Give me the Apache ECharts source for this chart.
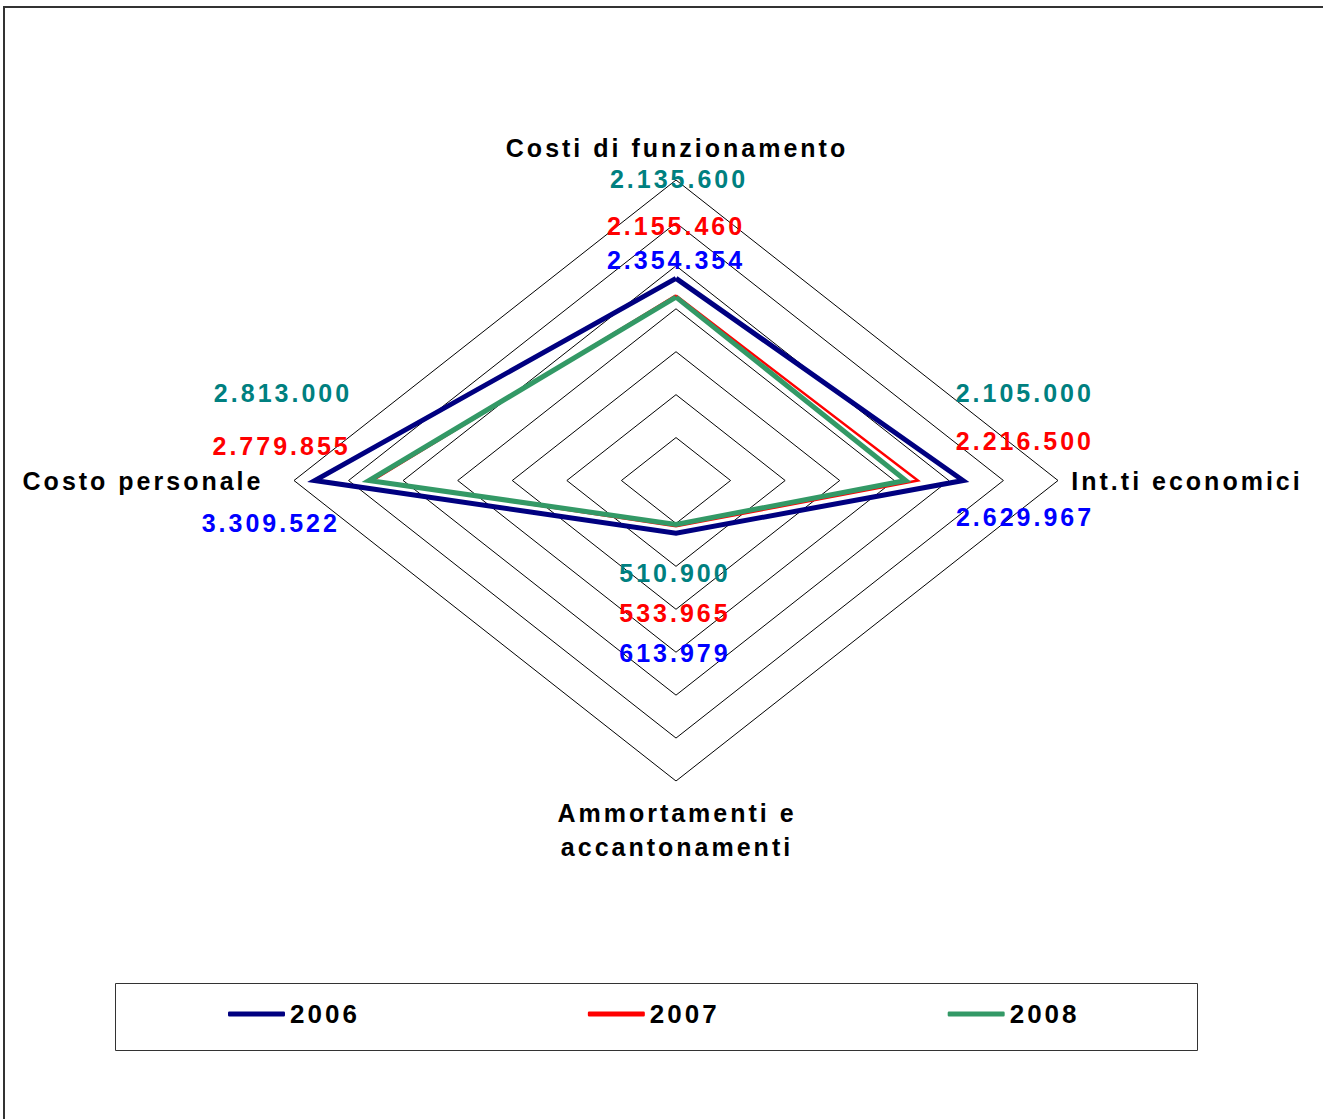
<!DOCTYPE html>
<html>
<head>
<meta charset="utf-8">
<script src="https://cdn.jsdelivr.net/npm/echarts@6/dist/echarts.min.js"></script>
<style>
html, body { margin: 0; padding: 0; background: #fff; }
#chart { width: 1323px; height: 1119px; }
#chart text { letter-spacing: 3px; }
</style>
</head>
<body>
<div id="chart"></div>
<script>
// top, right, bottom, left
var indicators = ['Costi di funzionamento', 'Int.ti economici', 'Ammortamenti e\naccantonamenti', 'Costo personale'];
var years = ['2006', '2007', '2008'];
var values2006 = [2354354, 2629967, 613979, 3309522];
var values2007 = [2155460, 2216500, 533965, 2779855];
var values2008 = [2135600, 2105000, 510900, 2813000];
var rings = [500000, 1000000, 1500000, 2000000, 2500000, 3000000, 3500000];

var lineColors = ['#000080', '#ff0000', '#339966'];
var lineWidths = [5, 2.5, 5];
var labelColors = ['#0000ff', '#ff0000', '#008080'];
// label offsets from each vertex (top, right, bottom, left)
var labelOffsets = [
    [[0, -18], [62, 36], [-1, 120], [-44, 42]],
    [[0, -69], [107, -40], [-1, 87], [-91, -35]],
    [[3, -118], [119, -88], [-1, 49], [-86, -88]]
];

var font = "'Liberation Sans', Arial, sans-serif";

function vertices(v) {
    return [[0, v[0]], [v[1], 0], [0, -v[2]], [-v[3], 0]];
}
function fmt(n) {
    return String(n).replace(/\B(?=(\d{3})+(?!\d))/g, '.');
}

var chart = echarts.init(document.getElementById('chart'), null, { renderer: 'svg' });

var series = [];
rings.forEach(function (r) {
    var pts = vertices([r, r, r, r]);
    series.push({
        type: 'line',
        data: pts.concat([pts[0]]),
        symbol: 'none',
        silent: true,
        lineStyle: { color: '#000', width: 1 },
        z: 1
    });
});

var allValues = [values2006, values2007, values2008];
years.forEach(function (y, i) {
    var pts = vertices(allValues[i]);
    series.push({
        name: y,
        type: 'line',
        data: pts.concat([pts[0]]),
        symbol: 'none',
        color: lineColors[i],
        itemStyle: { color: lineColors[i] },
        lineStyle: { color: lineColors[i], width: lineWidths[i], join: 'miter' },
        z: 2 + i
    });
});
years.forEach(function (y, i) {
    var pts = vertices(allValues[i]);
    series.push({
        name: y + ' etichette',
        type: 'scatter',
        symbolSize: 1,
        itemStyle: { color: 'rgba(0,0,0,0)', opacity: 1 },
        silent: true,
        z: 10,
        data: pts.map(function (p, k) {
            return {
                value: p,
                label: { offset: labelOffsets[i][k] }
            };
        }),
        label: {
            show: true,
            position: 'inside',
            align: 'center',
            verticalAlign: 'middle',
            color: labelColors[i],
            opacity: 1,
            fontFamily: font,
            fontWeight: 'bold',
            fontSize: 25,
            formatter: function (p) { return fmt(allValues[i][p.dataIndex]); }
        }
    });
});

function axisName(text, x, y, align) {
    return {
        type: 'text',
        x: x,
        y: y,
        silent: true,
        style: {
            text: text,
            fill: '#000',
            font: 'bold 25px ' + font,
            textAlign: align || 'center',
            textVerticalAlign: 'middle',
            lineHeight: 34
        }
    };
}

var option = {
    animation: false,
    grid: { left: 294, top: 180, width: 764, height: 601 },
    xAxis: { type: 'value', min: -3500000, max: 3500000, show: false },
    yAxis: { type: 'value', min: -3500000, max: 3500000, show: false },
    legend: {
        data: years,
        left: 228,
        top: 1001,
        padding: 0,
        icon: 'roundRect',
        itemWidth: 57,
        itemHeight: 5,
        itemGap: 240,
        textStyle: { color: '#000', fontFamily: font, fontWeight: 'bold', fontSize: 26 }
    },
    graphic: [
        {
            type: 'rect',
            silent: true,
            shape: { x: 4, y: 7, width: 1400, height: 1200 },
            style: { fill: 'none', stroke: '#333', lineWidth: 2 }
        },
        {
            type: 'rect',
            silent: true,
            shape: { x: 115.5, y: 983.5, width: 1082, height: 67 },
            style: { fill: 'none', stroke: '#333', lineWidth: 1 }
        },
        axisName(indicators[0], 677, 148),
        axisName(indicators[1], 1187, 481),
        axisName(indicators[2], 677, 830),
        axisName(indicators[3], 143, 481)
    ],
    series: series
};
chart.setOption(option);
</script>
</body>
</html>
